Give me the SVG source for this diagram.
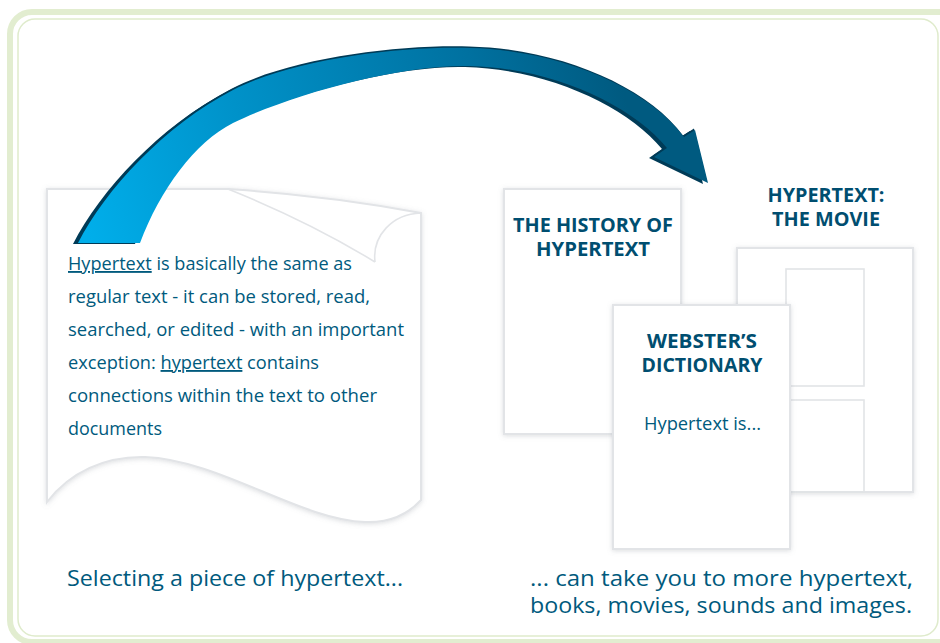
<svg xmlns="http://www.w3.org/2000/svg" width="940" height="643" viewBox="0 0 940 643">
<defs>
<linearGradient id="arrowGrad" gradientUnits="userSpaceOnUse" x1="90" y1="240" x2="620" y2="80">
<stop offset="0" stop-color="#00aeea"/>
<stop offset="0.32" stop-color="#0092c9"/>
<stop offset="0.75" stop-color="#0071a0"/>
<stop offset="1" stop-color="#005a80"/>
</linearGradient>
<filter id="soft" x="-10%" y="-10%" width="120%" height="120%">
<feDropShadow dx="0" dy="1" stdDeviation="2.5" flood-color="#8a939b" flood-opacity="0.3"/>
</filter>
<path id="arrowShape" d="M78,243 C105,190 165,125 233,90 C293,59 400,46 470,48 C560,50 648,88 684,137 L695,130 L708,183 L654,157 L667,148 C632,105 552,68 470,66 C400,64 290,95 233,123 C195,142 160,190 140,243 Z"/>
</defs>
<style>
.frame-outer{fill:none;stroke:#e2edd0;stroke-width:6}
.frame-inner{fill:none;stroke:#dfebcc;stroke-width:1.5}
.sheet{fill:#ffffff;stroke:#e2e4e7;stroke-width:2;filter:url(#soft)}
.line{fill:none;stroke:#e2e4e7;stroke-width:1.6}
.body{font-family:"Open Sans","Noto Sans",sans-serif;font-size:18.5px;fill:#005a7d}
.title{font-family:"Open Sans","Noto Sans",sans-serif;font-weight:700;font-size:19px;fill:#004e70;text-anchor:middle}
.mid{text-anchor:middle}
.caption{font-family:"Open Sans","Noto Sans",sans-serif;font-size:21px;fill:#005a7d}
.u{text-decoration:underline}
.shade{fill:#003b57}
</style>
<rect width="940" height="643" fill="#ffffff"/>
<g id="frame">
<rect class="frame-outer" x="10" y="12" width="970" height="630" rx="22"/>
<rect class="frame-inner" x="18" y="19" width="920" height="617" rx="17"/>
</g>
<g id="page">
<path class="sheet" d="M47,189 L228,189 Q330,196 421,213 L421,500 C410,512 392,523 365,522 C300,520 220,460 145,457 C105,456 70,472 47,502 Z"/>
<path class="line" d="M228,189 Q310,222 375,262"/>
<path class="line" d="M375,262 C372,236 392,214 421,213"/>
<text class="body" x="68" y="270" textLength="284" lengthAdjust="spacingAndGlyphs"><tspan class="u">Hypertext</tspan> is basically the same as</text>
<text class="body" x="68" y="303" textLength="302" lengthAdjust="spacingAndGlyphs">regular text - it can be stored, read,</text>
<text class="body" x="68" y="336" textLength="336" lengthAdjust="spacingAndGlyphs">searched, or edited - with an important</text>
<text class="body" x="68" y="369" textLength="251" lengthAdjust="spacingAndGlyphs">exception: <tspan class="u">hypertext</tspan> contains</text>
<text class="body" x="68" y="402" textLength="309" lengthAdjust="spacingAndGlyphs">connections within the text to other</text>
<text class="body" x="68" y="435" textLength="94" lengthAdjust="spacingAndGlyphs">documents</text>
</g>
<g id="doc-history">
<rect class="sheet" x="504" y="189" width="177" height="245"/>
<text class="title" x="593" y="232" textLength="160" lengthAdjust="spacingAndGlyphs">THE HISTORY OF</text>
<text class="title" x="593" y="256" textLength="114" lengthAdjust="spacingAndGlyphs">HYPERTEXT</text>
</g>
<g id="doc-movie">
<text class="title" x="826" y="202" textLength="117" lengthAdjust="spacingAndGlyphs">HYPERTEXT:</text>
<text class="title" x="826" y="226" textLength="108" lengthAdjust="spacingAndGlyphs">THE MOVIE</text>
<rect class="sheet" x="737" y="248" width="176" height="244"/>
<rect class="line" x="786" y="269" width="78" height="117" stroke-width="2"/>
<rect class="line" x="786" y="400" width="78" height="92" stroke-width="2"/>
</g>
<g id="doc-webster">
<rect class="sheet" x="613" y="305" width="177" height="244"/>
<text class="title" x="702" y="348" textLength="110" lengthAdjust="spacingAndGlyphs">WEBSTER’S</text>
<text class="title" x="702" y="372" textLength="121" lengthAdjust="spacingAndGlyphs">DICTIONARY</text>
<text class="body mid" x="702.5" y="430" textLength="117" lengthAdjust="spacingAndGlyphs">Hypertext is...</text>
</g>
<g id="connectors">
<use href="#arrowShape" class="shade" transform="translate(-5,1)"/>
<use href="#arrowShape" class="shade" transform="translate(-1,-1.5)"/>
<use href="#arrowShape" fill="url(#arrowGrad)"/>
</g>
<g id="captions">
<text class="caption" x="67" y="586" textLength="336" lengthAdjust="spacingAndGlyphs">Selecting a piece of hypertext...</text>
<text class="caption" x="530" y="586" textLength="383" lengthAdjust="spacingAndGlyphs">... can take you to more hypertext,</text>
<text class="caption" x="530" y="613" textLength="382" lengthAdjust="spacingAndGlyphs">books, movies, sounds and images.</text>
</g>
</svg>
